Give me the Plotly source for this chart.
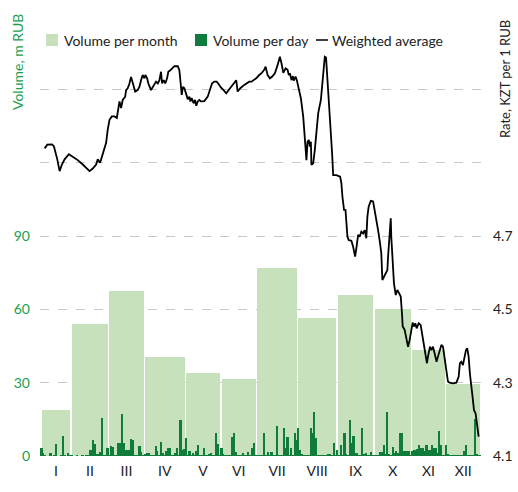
import plotly.graph_objects as go

months = ["I", "II", "III", "IV", "V", "VI", "VII", "VIII", "IX", "X", "XI", "XII"]
trading_days = [17, 21, 20, 23, 20, 20, 23, 22, 21, 21, 19, 20]
monthly_volume = [19, 54, 67.5, 40.5, 34, 31.5, 77, 56.5, 66, 60, 43.5, 29.5]

daily_volume = (
    [3.4, 1.1, 0.2, 0, 0, 1.1, 0, 0.1, 4.9, 0, 0, 0.2, 8.2, 0.1, 0, 1.2, 0.3]
    + [0.1, 0, 0, 0.2, 0, 0, 0.1, 0, 0.4, 0.1, 2.5, 2.5, 6.6, 4.9, 0.7, 0.7, 1.5, 15.6, 0.2, 0.1, 3.3]
    + [0.2, 4.1, 3.8, 0.3, 0.2, 5.2, 5.2, 17.3, 5.2, 2.5, 2.5, 2.5, 7.0, 6.6, 0.2, 0.1, 0.4, 4.1, 1.8, 0.3]
    + [0.7, 1.1, 1.1, 0.1, 0.1, 0.2, 4.1, 2.0, 0.3, 5.8, 1.1, 0.2, 2.0, 3.3, 3.3, 0.1, 0.1, 1.2, 3.3, 0.2, 14.9, 2.5, 2.7]
    + [7.4, 0.3, 2.0, 0.1, 1.1, 0.2, 2.0, 4.5, 0.1, 0.2, 3.4, 0.1, 0.1, 0.7, 1.2, 0.1, 0.3, 9.5, 4.9, 0.2]
    + [3.3, 0.7, 0.1, 0.2, 0.1, 0.3, 7.9, 9.5, 1.8, 0.2, 0.1, 0.2, 1.1, 0.1, 0.2, 1.8, 0.3, 3.3, 5.2, 0.4]
    + [0.2, 0.1, 0.1, 0.3, 9.5, 0.2, 1.6, 0.1, 1.6, 0.1, 0.2, 12.2, 0.1, 0.1, 0.2, 11.5, 3.3, 7.7, 0.3, 3.3, 0.2, 9.5, 6.6]
    + [11.5, 2.5, 0.7, 0.4, 0.1, 0.2, 0.1, 11.5, 9.5, 18.1, 7.4, 0.4, 0.1, 0.2, 0.1, 0.1, 0.2, 0.7, 0.7, 0.2, 5.2, 0.3]
    + [2.5, 0.2, 4.5, 0.3, 9.5, 0.7, 0.3, 14.8, 5.2, 8.2, 1.1, 1.1, 0.2, 0.1, 11.5, 0.7, 1.4, 0.1, 0.2, 1.6, 0.2]
    + [0.1, 0.2, 0.1, 1.6, 1.6, 4.5, 1.0, 18.1, 0.7, 0.3, 3.8, 1.4, 2.0, 1.1, 9.5, 9.5, 2.0, 2.0, 2.0, 2.0, 0.3]
    + [2.0, 2.5, 2.5, 2.9, 4.5, 3.2, 3.2, 2.0, 4.5, 2.5, 2.5, 4.5, 3.2, 3.2, 1.1, 10.3, 4.5, 0.3, 0.2]
    + [4.5, 0.7, 0.1, 0.1, 0.1, 0.4, 0.1, 0.4, 0.1, 0.2, 2.0, 4.5, 0.1, 0.1, 0.2, 0.3, 15.2, 0.7, 0.2, 0.1]
)

rate_day = [
    1.6, 3.1, 5.7, 6.8, 8.7, 10.0, 11.3, 12.8, 15.2, 17.4, 20.2, 23.0, 26.8, 28.6, 30.5,
    31.4, 32.7, 33.3, 35.2, 36.1, 37.0, 38.0, 39.3, 40.8, 42.1, 43.0, 43.6, 44.5, 45.4,
    46.8, 47.3, 48.2, 49.2, 50.1, 51.0, 52.4, 53.8, 54.8, 55.7, 56.6, 57.6, 58.1, 59.1,
    59.8, 61.3, 62.8, 64.1, 65.1, 66.0, 66.9, 67.5, 68.4, 69.3, 70.3, 71.0, 72.1, 73.5,
    74.4, 76.3, 77.2, 78.1, 78.5, 79.2, 80.0, 80.9, 81.9, 82.8, 83.4, 84.1, 85.2, 86.0,
    86.7, 87.5, 88.4, 89.3, 91.2, 93.1, 94.6, 95.5, 96.8, 98.1, 99.0, 100.5, 102.0,
    103.5, 105.2, 107.1, 108.4, 109.1, 109.9, 111.4, 113.6, 115.1, 116.4, 117.7, 119.2,
    120.3, 122.0, 123.3, 124.8, 125.6, 126.7, 128.0, 129.3, 130.8, 132.3, 133.6, 134.5,
    135.5, 136.8, 137.9, 138.6, 139.2, 140.1, 140.9, 141.4, 142.4, 143.1, 144.2, 145.4,
    146.7, 147.2, 148.0, 148.5, 149.1, 149.8, 150.4, 151.0, 151.3, 152.3, 153.2, 154.1,
    155.1, 156.6, 157.9, 158.8, 159.5, 160.1, 161.0, 162.2, 162.9, 163.5, 165.3, 167.4,
    168.1, 168.7, 169.1, 169.6, 170.4, 171.5, 172.2, 173.7, 174.7, 175.8, 176.5, 177.5,
    178.4, 179.3, 180.3, 181.2, 182.1, 182.7, 183.4, 184.6, 185.9, 186.8, 187.7, 188.7,
    189.8, 190.5, 191.1, 192.0, 192.8, 193.9, 194.3, 195.0, 195.8, 196.1, 196.9, 197.6,
    198.6, 199.5, 200.4, 201.4, 202.1, 202.5, 203.6, 204.7, 205.5, 206.4, 207.4, 208.1,
    208.7, 209.6, 210.3, 211.5, 212.6, 213.3, 214.1, 214.8, 215.6, 216.1, 216.7, 217.8,
    218.6, 219.5, 220.4, 221.5, 222.3, 223.0, 224.2, 225.1, 226.0, 227.0, 227.9, 228.8,
    230.7, 232.6, 233.9, 234.6, 235.4, 236.3, 237.2, 238.0, 238.7, 239.5, 240.2, 241.0,
    241.7, 242.5, 243.4, 243.9, 244.7, 245.1,
]
rate_value = [
    4.939, 4.949, 4.950, 4.945, 4.909, 4.877, 4.895, 4.909, 4.923, 4.916, 4.907, 4.895, 4.877, 4.884, 4.895,
    4.909, 4.900, 4.909, 4.936, 4.954, 4.990, 5.017, 5.026, 5.026, 5.022, 5.044, 5.067, 5.049, 5.071,
    5.080, 5.098, 5.103, 5.116, 5.134, 5.116, 5.094, 5.098, 5.107, 5.125, 5.139, 5.130, 5.139, 5.130,
    5.116, 5.098, 5.112, 5.121, 5.116, 5.125, 5.148, 5.116, 5.125, 5.116, 5.130, 5.148, 5.152, 5.159,
    5.163, 5.163, 5.152, 5.107, 5.085, 5.107, 5.103, 5.089, 5.073, 5.080, 5.067, 5.076, 5.062, 5.071,
    5.055, 5.067, 5.071, 5.067, 5.068, 5.080, 5.103, 5.116, 5.121, 5.121, 5.116, 5.105, 5.098,
    5.089, 5.100, 5.112, 5.121, 5.125, 5.094, 5.103, 5.112, 5.116, 5.121, 5.121, 5.125,
    5.130, 5.139, 5.144, 5.153, 5.162, 5.139, 5.130, 5.135, 5.144, 5.166, 5.189, 5.171,
    5.145, 5.157, 5.153, 5.139, 5.144, 5.125, 5.136, 5.124, 5.135, 5.125, 5.103, 5.075,
    5.025, 4.998, 4.944, 4.907, 4.957, 4.962, 4.944, 4.957, 4.894, 4.898, 4.935, 4.989,
    5.035, 5.071, 5.135, 5.189, 5.187, 5.144, 5.071, 4.998, 4.925, 4.866, 4.866, 4.862,
    4.844, 4.807, 4.780, 4.771, 4.771, 4.698, 4.689, 4.687, 4.671, 4.644, 4.666, 4.703,
    4.698, 4.712, 4.707, 4.716, 4.694, 4.753, 4.780, 4.796, 4.794, 4.771, 4.744, 4.716,
    4.680, 4.653, 4.580, 4.589, 4.598, 4.607, 4.644, 4.698, 4.748, 4.698, 4.607, 4.571,
    4.539, 4.553, 4.545, 4.535, 4.489, 4.453, 4.444, 4.416, 4.398, 4.416, 4.444, 4.464,
    4.453, 4.462, 4.448, 4.462, 4.457, 4.435, 4.407, 4.389, 4.357, 4.353, 4.371, 4.398,
    4.389, 4.398, 4.380, 4.357, 4.371, 4.385, 4.403, 4.398, 4.371, 4.335, 4.303, 4.300,
    4.298, 4.300, 4.316, 4.353, 4.357, 4.348, 4.371, 4.389, 4.394, 4.371, 4.325, 4.298,
    4.262, 4.225, 4.216, 4.198, 4.162, 4.153,
]

vol_ticks = [0, 30, 60, 90, 120, 150, 180]
vol_labels = ["0", "30", "60", "90", "", "", ""]
rate_ticks = [4.1, 4.3, 4.5, 4.7, 4.9, 5.1, 5.3]
rate_labels = ["4.1", "4.3", "4.5", "4.7", "", "", ""]

# derived positions on the trading-day axis
month_start = []
s = 0
for n in trading_days:
    month_start.append(s)
    s += n
month_center = [st + n / 2 - 0.5 for st, n in zip(month_start, trading_days)]
month_width = [n - 0.85 for n in trading_days]
day_index = list(range(len(daily_volume)))

GREEN_TXT = "#1a9e50"
LIGHT = "#c6e1bc"
DARK = "#0f7b3d"
FONT = "Lato"

W, H = 518, 492
ML, MR, MT, MB = 40, 36, 16, 36
PW, PH = W - ML - MR, H - MT - MB


def px(x):
    return (x - ML) / PW


def py(y):
    return (H - MB - y) / PH


fig = go.Figure()
fig.add_trace(go.Bar(
    x=month_center, y=monthly_volume, width=month_width,
    name="Volume per month", marker=dict(color=LIGHT, line=dict(width=0)),
))
fig.add_trace(go.Bar(
    x=day_index, y=daily_volume, width=0.95,
    name="Volume per day", marker=dict(color=DARK, line=dict(width=0)),
))
fig.add_trace(go.Scatter(
    x=rate_day, y=rate_value, yaxis="y2", mode="lines",
    name="Weighted average", line=dict(color="#000000", width=1.8),
))

# legend drawn as layout decorations
legend_shapes = [
    dict(type="rect", xref="paper", yref="paper", x0=px(46), x1=px(58), y0=py(46), y1=py(34),
         fillcolor=LIGHT, line=dict(width=0)),
    dict(type="rect", xref="paper", yref="paper", x0=px(195), x1=px(207), y0=py(46), y1=py(34),
         fillcolor=DARK, line=dict(width=0)),
    dict(type="line", xref="paper", yref="paper", x0=px(316), x1=px(328), y0=py(40), y1=py(40),
         line=dict(color="#000000", width=1.5)),
]
legend_texts = [
    ("Volume per month", 62),
    ("Volume per day", 211),
    ("Weighted average", 330),
]
annotations = [
    dict(text=t, xref="paper", yref="paper", x=px(xp), y=py(40), xanchor="left", yanchor="middle",
         showarrow=False, font=dict(family=FONT, size=14, color="#222222"))
    for t, xp in legend_texts
]
annotations += [
    dict(text="Volume, m RUB", xref="paper", yref="paper", x=px(18), y=py(62),
         textangle=-90, showarrow=False, xanchor="center", yanchor="middle",
         font=dict(family=FONT, size=14, color=GREEN_TXT)),
    dict(text="Rate, KZT per 1 RUB", xref="paper", yref="paper", x=px(505), y=py(79),
         textangle=-90, showarrow=False, xanchor="center", yanchor="middle",
         font=dict(family=FONT, size=13, color="#222222")),
]

fig.update_layout(
    width=W, height=H,
    margin=dict(l=ML, r=MR, t=MT, b=MB),
    paper_bgcolor="white", plot_bgcolor="white",
    barmode="overlay", bargap=0,
    font=dict(family=FONT, size=14, color="#222222"),
    showlegend=False,
    xaxis=dict(
        range=[-1, 247], tickvals=month_center, ticktext=months,
        showgrid=False, zeroline=False, showline=False, ticks="",
        tickfont=dict(family=FONT, size=14, color="#222222"),
        ticklabelstandoff=5, automargin=False,
    ),
    yaxis=dict(
        range=[0, 180], tickvals=vol_ticks, ticktext=vol_labels,
        showgrid=True, gridcolor="#c8c8c8", griddash="dash", gridwidth=1,
        zeroline=False, showline=False, ticks="",
        tickfont=dict(family=FONT, size=14, color=GREEN_TXT),
        ticklabelstandoff=9, automargin=False,
    ),
    yaxis2=dict(
        range=[4.1, 5.3], tickvals=rate_ticks, ticktext=rate_labels,
        overlaying="y", side="right", showgrid=False, zeroline=False, showline=False,
        ticks="", tickfont=dict(family=FONT, size=14, color="#222222"),
        ticklabelstandoff=10, automargin=False,
    ),
    shapes=legend_shapes,
    annotations=annotations,
)

fig.write_html(
    "out.html",
    config={"displayModeBar": False},
    post_script="document.body.style.margin='0';document.body.style.overflow='hidden';",
)
